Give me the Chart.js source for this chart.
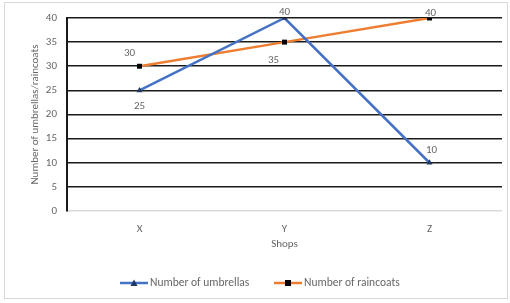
<!DOCTYPE html>
<html>
<head>
<meta charset="utf-8">
<script src="https://cdn.jsdelivr.net/npm/chart.js@4"></script>
<style>
  html, body { margin: 0; padding: 0; background: #fff; }
  #wrap { width: 510px; height: 303px; position: relative; }
</style>
</head>
<body>
<div id="wrap"><canvas id="myChart" width="510" height="303"></canvas></div>
<script>
let shops = ["X", "Y", "Z"]
let umbrellas = [25, 40, 10]
let raincoats = [30, 35, 40]
let yTicks = [0, 5, 10, 15, 20, 25, 30, 35, 40]

// where each value label sits relative to its point (dx, dy)
let umbrellaLabelPos = [[0, 16], [0, -6], [2, -13]]
let raincoatLabelPos = [[-10, -13], [-11, 18], [1, -5]]

let grey = "#666666"
let font = "Calibri, Carlito, 'Open Sans', sans-serif"
let fs = 11

let frame = {
  id: "frame",
  beforeDraw(chart) {
    let c = chart.ctx
    c.save()
    c.fillStyle = "#fff"
    c.fillRect(0, 0, chart.width, chart.height)
    c.strokeStyle = "#d9d9d9"
    c.lineWidth = 1
    c.strokeRect(4.5, 2.5, 503, 296)
    c.restore()
  }
}

let valueLabels = {
  id: "valueLabels",
  afterDatasetsDraw(chart) {
    let c = chart.ctx
    c.save()
    c.font = fs + "px " + font
    c.fillStyle = grey
    c.textAlign = "center"
    c.textBaseline = "middle"
    let pos = [umbrellaLabelPos, raincoatLabelPos]
    chart.data.datasets.forEach((ds, i) => {
      chart.getDatasetMeta(i).data.forEach((pt, j) => {
        c.fillText(ds.data[j], pt.x + pos[i][j][0], pt.y + pos[i][j][1])
      })
    })
    c.restore()
  }
}

function legendItem(c, x, y, color, markColor, style, text) {
  c.strokeStyle = color
  c.lineWidth = 2.5
  c.beginPath()
  c.moveTo(x, y)
  c.lineTo(x + 28, y)
  c.stroke()
  c.fillStyle = markColor
  let mx = x + 14
  if (style === "triangle") {
    c.beginPath()
    c.moveTo(mx, y - 3.5)
    c.lineTo(mx + 3.5, y + 3)
    c.lineTo(mx - 3.5, y + 3)
    c.closePath()
    c.fill()
  } else {
    c.fillRect(mx - 3, y - 3, 6, 6)
  }
  c.fillStyle = grey
  c.textAlign = "left"
  c.textBaseline = "middle"
  c.fillText(text, x + 30, y)
}

let bottomLegend = {
  id: "bottomLegend",
  afterDraw(chart) {
    let c = chart.ctx
    c.save()
    c.font = "11.5px " + font
    legendItem(c, 120, 283, "#4472C4", "#1F3864", "triangle", "Number of umbrellas")
    legendItem(c, 274, 283, "#ED7D31", "#000", "rect", "Number of raincoats")
    c.restore()
  }
}

let data = {
  labels: shops,
  datasets: [
    {
      label: "Number of umbrellas",
      data: umbrellas,
      borderColor: "#4472C4",
      backgroundColor: "#1F3864",
      borderWidth: 2.5,
      pointStyle: "triangle",
      pointRadius: 3.5,
      pointBorderWidth: 0,
      tension: 0
    },
    {
      label: "Number of raincoats",
      data: raincoats,
      borderColor: "#ED7D31",
      backgroundColor: "#000",
      borderWidth: 2.5,
      pointStyle: "rect",
      pointRadius: 3.5,
      pointBorderWidth: 0,
      tension: 0
    }
  ]
}

let config = {
  type: "line",
  data: data,
  options: {
    responsive: false,
    animation: false,
    layout: { padding: { left: 29, right: 8, top: 18, bottom: 52 } },
    plugins: { legend: { display: false }, tooltip: { enabled: false } },
    scales: {
      x: {
        offset: true,
        grid: { display: false },
        border: { display: false },
        ticks: { color: grey, font: { size: fs, family: font }, padding: 4 },
        title: { display: true, text: "Shops", color: grey, font: { size: fs, family: font }, padding: { top: 4, bottom: 0 } },
        afterFit(scale) { scale.height = 40 }
      },
      y: {
        min: 0,
        max: 40,
        afterBuildTicks(scale) { scale.ticks = yTicks.map(v => ({ value: v })) },
        grid: {
          drawTicks: false,
          color: ctx => ctx.tick && ctx.tick.value === 0 ? "#d9d9d9" : "#1a1a1a",
          lineWidth: 1.6
        },
        border: { display: true, color: "#1a1a1a", width: 2 },
        ticks: { color: grey, font: { size: fs, family: font }, padding: 10 },
        title: { display: true, text: "Number of umbrellas/raincoats", color: grey, font: { size: fs, family: font }, padding: 0 },
        afterFit(scale) { scale.width = 38 }
      }
    }
  },
  plugins: [frame, valueLabels, bottomLegend]
}

let myChart = new Chart(document.getElementById("myChart"), config)
</script>
</body>
</html>
